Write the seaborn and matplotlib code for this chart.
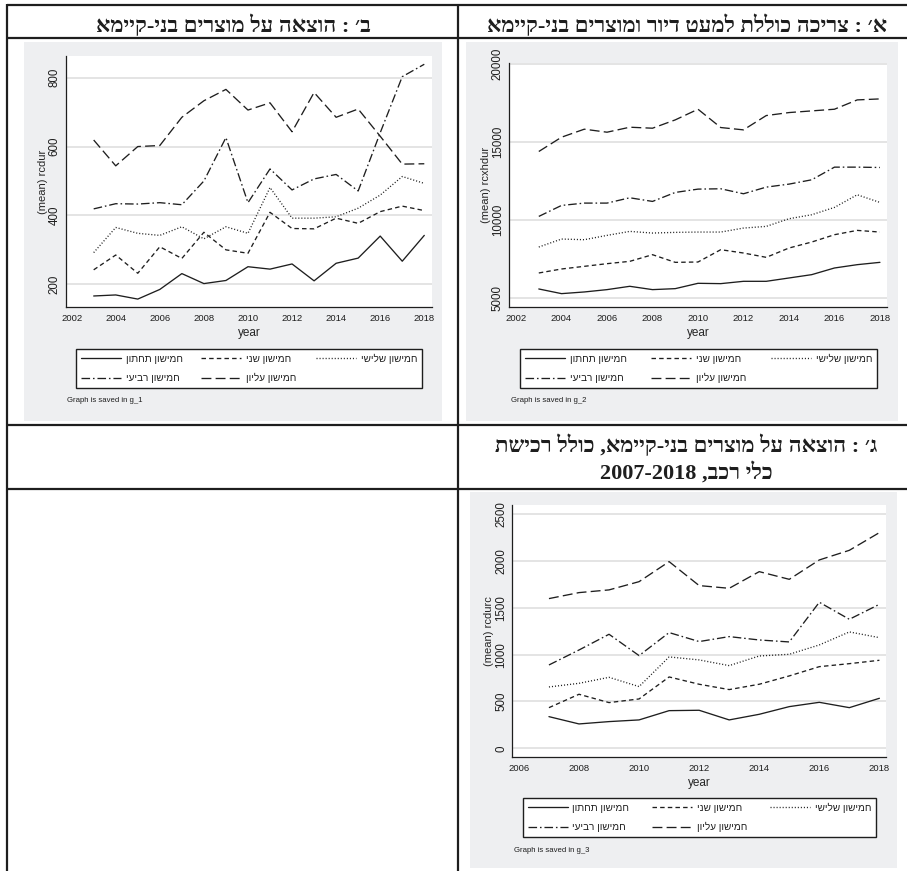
import re
import numpy as np
import pandas as pd
import matplotlib
matplotlib.use("Agg")
import matplotlib.pyplot as plt
import seaborn as sns
from matplotlib import font_manager
from matplotlib.lines import Line2D
from matplotlib.patches import Rectangle

# ---------------------------------------------------------------- data
years_0318 = list(range(2003, 2019))
years_0718 = list(range(2007, 2019))

quintile_labels = ["חמישון תחתון", "חמישון שני", "חמישון שלישי",
                   "חמישון רביעי", "חמישון עליון"]

# durable goods expenditure (rcdur)
rcdur_q1 = [166, 169, 157, 185, 231, 202, 211, 251, 244, 259, 210, 261, 276, 340, 267, 342]
rcdur_q2 = [242, 285, 232, 309, 275, 351, 300, 290, 409, 362, 361, 392, 377, 411, 427, 414]
rcdur_q3 = [292, 365, 348, 342, 367, 332, 367, 348, 481, 392, 392, 396, 421, 459, 513, 493]
rcdur_q4 = [419, 434, 433, 437, 431, 500, 626, 437, 535, 474, 506, 519, 471, 640, 803, 839]
rcdur_q5 = [619, 544, 600, 603, 685, 733, 766, 706, 727, 643, 757, 685, 709, 630, 549, 550]

# total consumption excl. housing and durables (rcxhdur)
rcxhdur_q1 = [5576, 5277, 5384, 5534, 5747, 5534, 5597, 5939, 5918, 6067, 6067, 6280, 6494, 6921, 7134, 7283]
rcxhdur_q2 = [6601, 6857, 7027, 7198, 7347, 7774, 7283, 7305, 8094, 7881, 7604, 8201, 8585, 9055, 9332, 9225]
rcxhdur_q3 = [8265, 8777, 8735, 9012, 9268, 9161, 9204, 9225, 9225, 9481, 9588, 10079, 10335, 10805, 11615, 11125]
rcxhdur_q4 = [10228, 10932, 11082, 11082, 11423, 11189, 11765, 11978, 12000, 11680, 12106, 12298, 12576, 13387, 13387, 13365]
rcxhdur_q5 = [14390, 15307, 15820, 15627, 15947, 15883, 16417, 17100, 15926, 15777, 16694, 16886, 16993, 17100, 17698, 17762]

# durables incl. vehicle purchase (rcdurc)
rcdurc_q1 = [338, 260, 285, 303, 402, 406, 303, 363, 445, 491, 434, 534]
rcdurc_q2 = [434, 577, 488, 527, 762, 684, 627, 684, 773, 872, 904, 940]
rcdurc_q3 = [655, 694, 758, 659, 976, 944, 883, 986, 1004, 1104, 1243, 1182]
rcdurc_q4 = [890, 1050, 1218, 990, 1236, 1140, 1193, 1157, 1136, 1560, 1378, 1538]
rcdurc_q5 = [1599, 1663, 1692, 1780, 1994, 1738, 1709, 1887, 1805, 2012, 2115, 2304]

title_b = "ב׳ : הוצאה על מוצרים בני-קיימא"
title_a = "א׳ : צריכה כוללת למעט דיור ומוצרים בני-קיימא"
title_c1 = "ג׳ : הוצאה על מוצרים בני-קיימא, כולל רכישת"
title_c2 = "כלי רכב, 2007-2018"

ticks_rcdur = [200, 400, 600, 800]
ticks_rcxhdur = [5000, 10000, 15000, 20000]
ticks_rcdurc = [0, 500, 1000, 1500, 2000, 2500]
ticks_years_02 = list(range(2002, 2019, 2))
ticks_years_06 = list(range(2006, 2019, 2))

# ---------------------------------------------------------------- style
W, H = 907, 871
INK = "#1e1e1e"
PANEL = "#eeeff1"
GRID = "#e2e2e2"
LW = 0.95

sns.set_style("white")
installed = {f.name for f in font_manager.fontManager.ttflist}
NARROW = "Liberation Sans Narrow" in installed
SANS = ["Liberation Sans", "DejaVu Sans"]
HSANS = (["Liberation Sans Narrow"] if NARROW else []) + SANS
SERIF = ["Liberation Serif", "DejaVu Serif", "DejaVu Sans"]
plt.rcParams["font.family"] = SANS
plt.rcParams["text.color"] = INK
XT_SIZE = 8.0 if NARROW else 6.8

DASHES = {
    quintile_labels[0]: "",
    quintile_labels[1]: (3.4, 2.4),
    quintile_labels[2]: (0.8, 1.5),
    quintile_labels[3]: (6.5, 2.2, 1.2, 2.2),
    quintile_labels[4]: (7.5, 3.2),
}


def rtl(s):
    """Visual (left-to-right) order for a right-to-left string."""
    r = s[::-1]
    return re.sub(r"[0-9A-Za-z_]+(?:[-.][0-9A-Za-z_]+)*",
                  lambda m: m.group(0)[::-1], r)


def fx(x):
    return x / W


def fy(y):
    return 1 - y / H


fig = plt.figure(figsize=(W / 100, H / 100), dpi=100)
fig.patch.set_facecolor("white")


def panel(bg, box, years, series, ylabel, yticks, xticks, xlim, ylim,
          xlabel_y, legend_box, note, note_xy):
    gx0, gy0, gx1, gy1 = bg
    fig.add_artist(Rectangle((fx(gx0), fy(gy1)), fx(gx1) - fx(gx0), fy(gy0) - fy(gy1),
                             transform=fig.transFigure, facecolor=PANEL,
                             edgecolor="none", zorder=-5))
    x0, y0, x1, y1 = box
    ax = fig.add_axes([fx(x0), fy(y1), fx(x1) - fx(x0), fy(y0) - fy(y1)])
    ax.set_facecolor("white")

    df = pd.DataFrame({
        "year": np.tile(years, len(series)),
        "value": np.concatenate(series),
        "q": np.repeat(quintile_labels, len(years)),
    })
    sns.lineplot(data=df, x="year", y="value", hue="q", style="q",
                 palette={q: INK for q in quintile_labels}, dashes=DASHES,
                 linewidth=LW, estimator=None, sort=False, legend=False, ax=ax)

    ax.set_xlim(*xlim)
    ax.set_ylim(*ylim)
    ax.set_xticks(xticks)
    ax.set_yticks(yticks)
    ax.grid(axis="y", color=GRID, linewidth=1.3)
    ax.grid(axis="x", visible=False)
    ax.set_axisbelow(True)
    sns.despine(ax=ax)
    for s in ("left", "bottom"):
        ax.spines[s].set_color(INK)
        ax.spines[s].set_linewidth(0.9)
    ax.tick_params(axis="both", direction="out", length=3, width=0.8, color=INK,
                   labelcolor=INK)
    ax.tick_params(axis="y", labelrotation=90, labelsize=8.3, pad=0.8)
    ax.tick_params(axis="x", labelsize=XT_SIZE, pad=2)
    for t in ax.get_yticklabels():
        t.set_va("center")
    for t in ax.get_xticklabels():
        t.set_fontfamily(HSANS)

    ax.set_ylabel(ylabel, fontsize=8, va="center", ha="center")
    ax.yaxis.set_label_coords(-23.0 / (x1 - x0), 0.5)
    ax.set_xlabel("year", fontsize=8.5, family=HSANS, va="center", ha="center")
    ax.xaxis.set_label_coords(0.5, (y1 - xlabel_y) / (y1 - y0))

    handles = []
    for q in quintile_labels:
        d = DASHES[q]
        if d == "":
            handles.append(Line2D([], [], color=INK, lw=LW, linestyle="-"))
        else:
            handles.append(Line2D([], [], color=INK, lw=LW, dashes=d))
    order = [0, 3, 1, 4, 2]
    lx0, ly0, lx1, ly1 = legend_box
    leg = ax.legend([handles[i] for i in order],
                    [rtl(quintile_labels[i]) for i in order],
                    ncol=3, loc="center", mode="expand",
                    bbox_to_anchor=(fx(lx0), fy(ly1), fx(lx1) - fx(lx0), fy(ly0) - fy(ly1)),
                    bbox_transform=fig.transFigure, frameon=True, fancybox=False,
                    framealpha=1, facecolor="white", edgecolor=INK,
                    prop={"family": SANS, "size": 7.2}, handlelength=4.0,
                    handletextpad=0.5, borderaxespad=0, borderpad=0.45,
                    labelspacing=0.95, columnspacing=1.0)
    leg.get_frame().set_linewidth(1.0)

    fig.text(fx(note_xy[0]), fy(note_xy[1]), note, fontsize=5.6, family=HSANS,
             ha="left", va="center", color=INK)
    return ax


# chart B: durable goods
panel((24, 42, 442, 421), (65.7, 56, 432, 307), years_0318,
      [rcdur_q1, rcdur_q2, rcdur_q3, rcdur_q4, rcdur_q5],
      "(mean) rcdur", ticks_rcdur, ticks_years_02, (2001.73, 2018.35), (134, 863),
      333, (76, 347.7, 421.7, 389.3), "Graph is saved in g_1", (67, 400))

# chart A: consumption excluding housing and durables
panel((466, 42, 898, 421), (509, 63, 887, 307), years_0318,
      [rcxhdur_q1, rcxhdur_q2, rcxhdur_q3, rcxhdur_q4, rcxhdur_q5],
      "(mean) rcxhdur", ticks_rcxhdur, ticks_years_02, (2001.69, 2018.31), (4420, 20064),
      333, (520, 347.7, 877, 389.3), "Graph is saved in g_2", (511, 400))

# chart C: durables including vehicles
panel((470, 492, 897, 868), (512.3, 505, 886, 756.7), years_0718,
      [rcdurc_q1, rcdurc_q2, rcdurc_q3, rcdurc_q4, rcdurc_q5],
      "(mean) rcdurc", ticks_rcdurc, ticks_years_06, (2005.78, 2018.22), (-90, 2599),
      783, (523, 796, 876, 839), "Graph is saved in g_3", (514, 850))

# table rules
for y in (5, 38, 425, 489):
    fig.add_artist(Line2D([fx(7), fx(907)], [fy(y), fy(y)], transform=fig.transFigure,
                          color=INK, lw=1.6, solid_capstyle="butt", zorder=10))
for x in (7, 458):
    fig.add_artist(Line2D([fx(x), fx(x)], [fy(4.4), fy(871)], transform=fig.transFigure,
                          color=INK, lw=1.6, solid_capstyle="butt", zorder=10))

# table headers
title_kw = dict(family=SERIF, weight="bold", fontsize=16, ha="center", va="baseline",
                color=INK)
fig.text(fx(233), fy(31.5), rtl(title_b), **title_kw)
fig.text(fx(687), fy(31.5), rtl(title_a), **title_kw)
fig.text(fx(686), fy(452), rtl(title_c1), **title_kw)
fig.text(fx(686), fy(479), rtl(title_c2), **title_kw)

fig.savefig("out.png", dpi=100, facecolor="white")
